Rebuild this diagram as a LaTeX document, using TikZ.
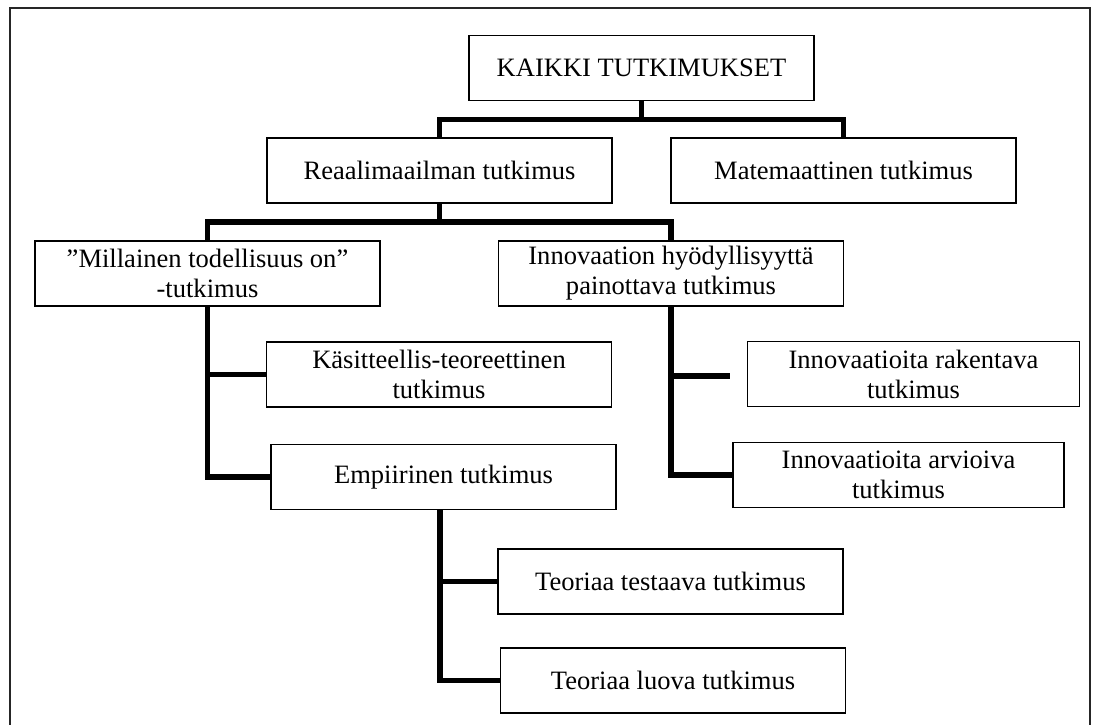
\documentclass[tikz,border=0pt]{standalone}
\usepackage{fontspec}
\setmainfont{Liberation Serif}
\begin{document}
\begin{tikzpicture}[x=0.75pt,y=-0.75pt,
  box/.style={draw=black,line width=1.1pt,fill=white,inner sep=0pt,align=center,
    minimum width=258.5pt,minimum height=48.5pt,
    font=\fontsize{19.9pt}{22.5pt}\selectfont},
  conn/.style={draw=black,line width=4.4pt,line join=miter,line cap=butt},
  frame/.style={draw=black!85,line width=1.5pt}]
\useasboundingbox (0,0) rectangle (1098,724);
% outer frame, open at the bottom
\draw[frame] (10,740) -- (10,8) -- (1090,8) -- (1090,740);

% boxes
\node[box] (kaikki)    at (641.5,68)    {KAIKKI TUTKIMUKSET};
\node[box] (reaali)    at (439.5,170.5) {Reaalimaailman tutkimus};
\node[box] (mate)      at (843.5,170.5) {Matemaattinen tutkimus};
\node[box] (millainen) at (207.5,273.5) {”Millainen todellisuus on”\\-tutkimus};
\node[box] (innov)     at (671,273.5)   {Innovaation hyödyllisyyttä\\painottava tutkimus};
\node[box] (kasit)     at (439,374.5)   {Käsitteellis-teoreettinen\\tutkimus};
\node[box] (empir)     at (443.5,477)   {Empiirinen tutkimus};
\node[box,minimum width=249pt] (rakent) at (913.5,374) {Innovaatioita rakentava\\tutkimus};
\node[box,minimum width=248pt] (arvio)  at (898.5,475) {Innovaatioita arvioiva\\tutkimus};
\node[box] (testaa)    at (670.5,581.5) {Teoriaa testaava tutkimus};
\node[box] (luova)     at (673,680.5)   {Teoriaa luova tutkimus};

% junction points of the tree
\coordinate (j1) at (641.5,119.5);
\coordinate (j2) at (439.5,222);
\coordinate (rakentend) at (730,376);
\coordinate (estem) at (440,509);

% connectors
\draw[conn] (kaikki.south) -- (j1);
\draw[conn] (reaali.north) |- (j1) -| (mate.north);
\draw[conn] (reaali.south) -- (j2);
\draw[conn] (millainen.north) |- (j2) -| (innov.north);
\draw[conn] (millainen.south) |- (empir.west);
\draw[conn] (millainen.south |- kasit.west) -- (kasit.west);
\draw[conn] (innov.south) |- (arvio.west);
\draw[conn] (innov.south |- rakentend) -- (rakentend);
\draw[conn] (estem) |- (luova.west);
\draw[conn] (estem |- testaa.west) -- (testaa.west);
\end{tikzpicture}
\end{document}
